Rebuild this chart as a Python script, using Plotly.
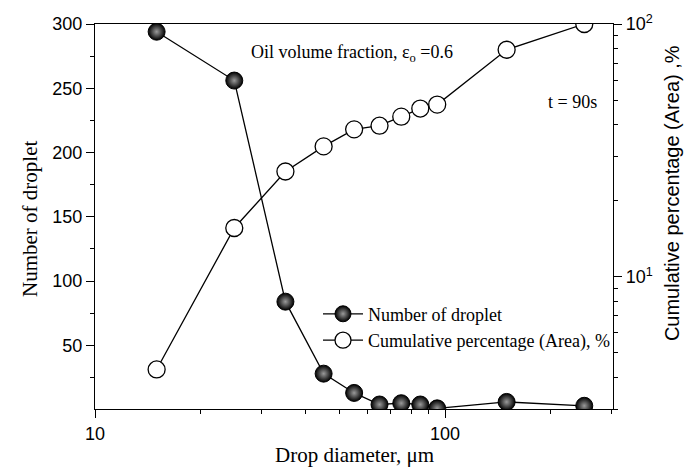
import plotly.graph_objects as go
import numpy as np

diameter = [15, 25, 35, 45, 55, 65, 75, 85, 95, 150, 250]
n_droplet = [294, 256, 84, 28, 13, 4, 5, 4, 1, 6, 3]
cum_pct = [4.3, 15.6, 26.1, 32.8, 38.3, 39.6, 43.0, 46.3, 48.0, 79.1, 100]

left_ticks = [50, 100, 150, 200, 250, 300]
left_minor = [25, 75, 125, 175, 225, 275]
right_ticks = [10, 100]
right_ticktext = ["10<sup>1</sup>", "10<sup>2</sup>"]
x_ticks = [10, 100]

SERIF = "Liberation Serif, Times New Roman, serif"
SANS = "Liberation Sans, Arial, sans-serif"

L, R, T, B = 95, 613, 22, 409
W, H = 689, 472


def px(x, y):
    return (x - L) / (R - L), (B - y) / (B - T)


fig = go.Figure()
fig.add_trace(go.Scatter(
    x=diameter, y=n_droplet, name="Number of droplet", mode="lines+markers",
    line=dict(color="black", width=1.3),
    marker=dict(size=17, color="black", line=dict(color="black", width=1),
                gradient=dict(type="radial", color="#9a9a9a")),
    yaxis="y"))
fig.add_trace(go.Scatter(
    x=diameter, y=cum_pct, name="Cumulative percentage (Area), %", mode="lines+markers",
    line=dict(color="black", width=1.3),
    marker=dict(size=17, color="white", line=dict(color="black", width=1.3)),
    yaxis="y2"))

lx, ly = px(318, 295)
fig.update_layout(
    width=W, height=H,
    margin=dict(l=L, r=W - R, t=T, b=H - B),
    plot_bgcolor="white", paper_bgcolor="white",
    showlegend=True,
    legend=dict(x=lx, y=ly, xanchor="left", yanchor="top",
                bgcolor="rgba(0,0,0,0)", font=dict(family=SERIF, size=18, color="black"),
                tracegroupgap=0, itemwidth=40),
    xaxis=dict(type="log", range=[1, np.log10(302)], showline=True, linecolor="black",
               linewidth=1.3, mirror=True, showgrid=False, zeroline=False,
               tickvals=x_ticks, ticktext=["10", "100"], ticks="outside", ticklen=8,
               tickwidth=1.3, tickcolor="black",
               tickfont=dict(family=SANS, size=18, color="black"),
               minor=dict(ticks="outside", ticklen=4, tickwidth=1.3, tickcolor="black",
                          showgrid=False,
                          tickvals=[20, 30, 40, 50, 60, 70, 80, 90, 200, 300])),
    yaxis=dict(range=[0.5, 300], showline=True, linecolor="black", linewidth=1.3,
               showgrid=False, zeroline=False, tickvals=left_ticks, ticks="outside",
               ticklen=8, tickwidth=1.3, tickcolor="black",
               tickfont=dict(family=SANS, size=18, color="black"),
               minor=dict(ticks="outside", ticklen=4, tickwidth=1.3, tickcolor="black",
                          showgrid=False, tickvals=left_minor)),
    yaxis2=dict(type="log", range=[np.log10(3), 2], overlaying="y", side="right",
                showline=True, linecolor="black", linewidth=1.3, showgrid=False,
                zeroline=False, tickvals=right_ticks, ticktext=right_ticktext,
                ticks="outside", ticklen=8, tickwidth=1.3, tickcolor="black",
                tickfont=dict(family=SANS, size=18, color="black"),
                minor=dict(ticks="outside", ticklen=4, tickwidth=1.3, tickcolor="black",
                           showgrid=False,
                           tickvals=[3, 4, 5, 6, 7, 8, 9, 20, 30, 40, 50, 60, 70, 80, 90])),
)

annotations = [
    dict(text="Oil volume fraction, ε<sub>o</sub> =0.6", x=352, y=52, font=dict(family=SERIF, size=18)),
    dict(text="t = 90s", x=572, y=100, font=dict(family=SERIF, size=18)),
    dict(text="Drop diameter, μm", x=354, y=455, font=dict(family=SERIF, size=21)),
    dict(text="Number of droplet", x=30, y=218, textangle=-90, font=dict(family=SERIF, size=21)),
    dict(text="Cumulative percentage (Area) ,%", x=672, y=192, textangle=-90,
         font=dict(family=SANS, size=20)),
]
for a in annotations:
    ax, ay = px(a["x"], a["y"])
    fig.add_annotation(text=a["text"], x=ax, y=ay,
                       xref="paper", yref="paper", showarrow=False,
                       textangle=a.get("textangle", 0),
                       xanchor="center", yanchor="middle",
                       font=dict(color="black", **a["font"]))

fig.write_html("out.html")
